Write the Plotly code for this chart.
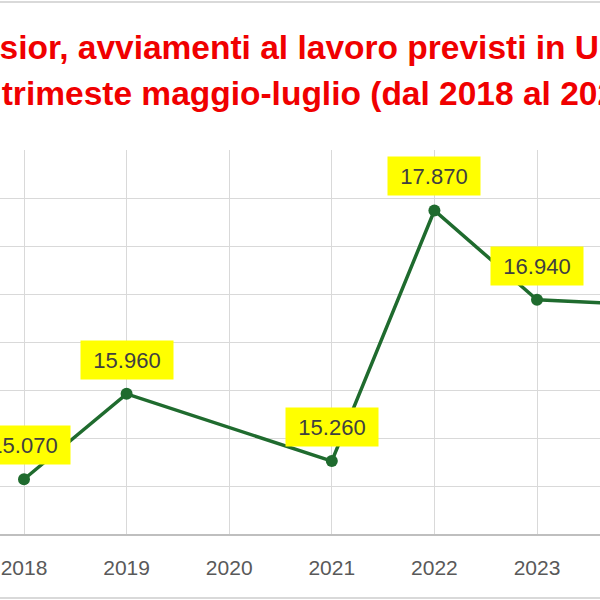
import plotly.graph_objects as go

years = [2018, 2019, 2020, 2021, 2022, 2023, 2024]
year_labels = ["2018", "2019", "2020", "2021", "2022", "2023", "2024"]
avviamenti = [15070, 15960, None, 15260, 17870, 16940, 16890]
value_labels = ["15.070", "15.960", None, "15.260", "17.870", "16.940", "16.890"]
title_line1 = "Excelsior, avviamenti al lavoro previsti in Umbria"
title_line2 = "nel trimeste maggio-luglio (dal 2018 al 2024)"

GREEN = "#1F6B2E"
GRID = "#D9D9D9"

fig = go.Figure()
fig.add_trace(go.Scatter(
    x=years, y=avviamenti, mode="lines+markers", connectgaps=True,
    line=dict(color=GREEN, width=3.5),
    marker=dict(color=GREEN, size=12),
    hoverinfo="skip", showlegend=False,
))

annotations = []
for x, y, t in zip(years, avviamenti, value_labels):
    if y is None:
        continue
    annotations.append(dict(
        x=x, y=y, xref="x", yref="y", text=t, showarrow=False,
        yshift=34, bgcolor="#FFFF00", borderpad=5, width=82, height=28,
        font=dict(family="Liberation Sans, Arial, sans-serif", size=22, color="#404040"),
    ))

title_font = dict(family="Liberation Sans, Arial, sans-serif",
                  size=33.5, color="#F00000", weight="bold")
annotations.append(dict(x=301.5 / 600, y=1 - 47 / 600, xref="paper", yref="paper", text=title_line1,
                        showarrow=False, xanchor="center", yanchor="middle", font=title_font))
annotations.append(dict(x=295 / 600, y=1 - 93 / 600, xref="paper", yref="paper", text=title_line2,
                        showarrow=False, xanchor="center", yanchor="middle", font=title_font))

spacing = 513 / 5
x0 = 2018 - 24 / spacing
x1 = x0 + 600 / spacing

fig.update_layout(
    width=600, height=600,
    margin=dict(l=0, r=0, t=0, b=0),
    paper_bgcolor="white", plot_bgcolor="white",
    annotations=annotations,
    shapes=[
        dict(type="line", xref="paper", yref="paper", x0=0, x1=1, y0=1 - 2 / 600, y1=1 - 2 / 600,
             line=dict(color=GRID, width=2)),
        dict(type="line", xref="paper", yref="paper", x0=0, x1=1, y0=2 / 600, y1=2 / 600,
             line=dict(color=GRID, width=2)),
    ],
    xaxis=dict(
        range=[x0, x1], tickvals=years, ticktext=year_labels,
        showgrid=True, gridcolor=GRID, gridwidth=1.3,
        showline=True, linecolor="#BFBFBF", linewidth=2,
        ticks="", ticklabelstandoff=14,
        tickfont=dict(family="Liberation Sans, Arial, sans-serif", size=21, color="#595959"),
        zeroline=False,
    ),
    yaxis=dict(
        domain=[66 / 600, 450 / 600], range=[14500, 18500], dtick=500,
        showgrid=True, gridcolor=GRID, gridwidth=1.3,
        showticklabels=False, zeroline=False, showline=False,
    ),
)

fig.write_html("out.html", config={"displayModeBar": False},
               post_script="document.body.style.margin='0';document.body.style.overflow='hidden';")
